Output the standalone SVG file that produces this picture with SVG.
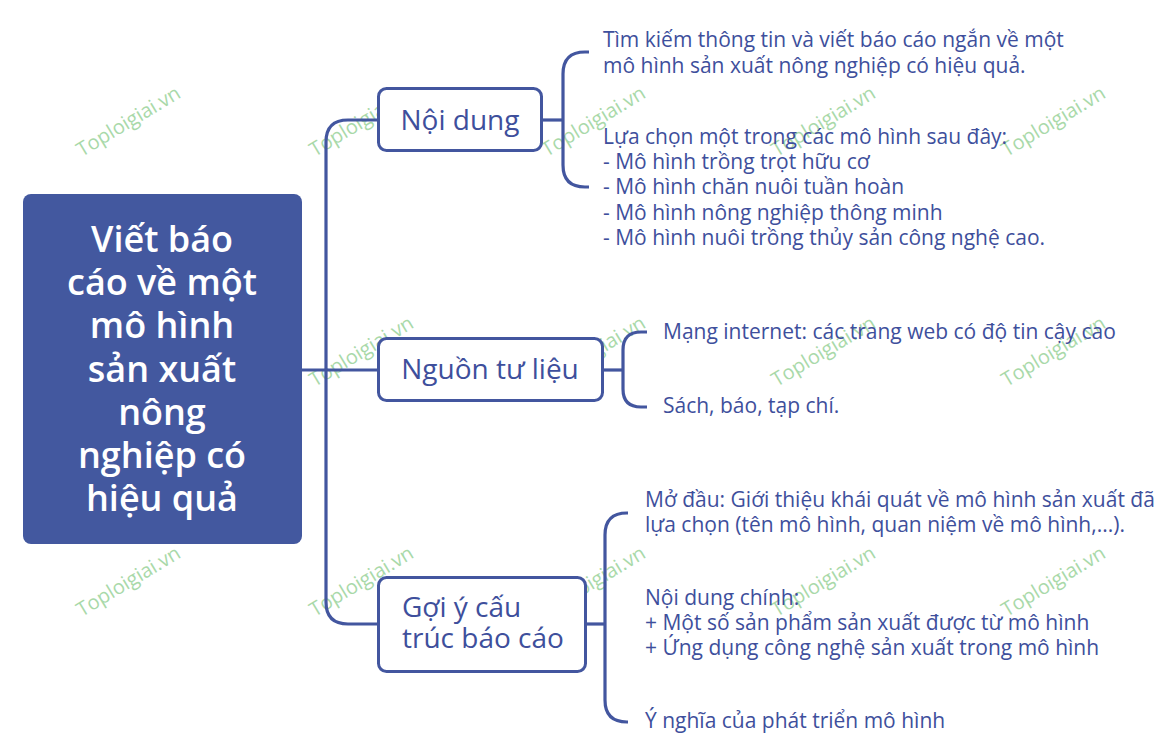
<svg xmlns="http://www.w3.org/2000/svg" width="1166" height="745" viewBox="0 0 1166 745">
<style>
.wm{font-family:"Open Sans","Noto Sans",sans-serif;font-size:20px;fill:#a9d9a9;}
.root{font-family:"Open Sans","Noto Sans",sans-serif;font-size:36px;font-weight:600;fill:#ffffff;text-anchor:middle;}
.nb{fill:#ffffff;stroke:#43569f;stroke-width:3;}
.nt{font-family:"Open Sans","Noto Sans",sans-serif;font-size:28px;fill:#3e4f9c;}
.lt{font-family:"Open Sans","Noto Sans",sans-serif;font-size:21px;fill:#3e4f9c;}
.ln{fill:none;stroke:#43569f;stroke-width:3.2;stroke-linecap:butt;}
</style>
<rect width="1166" height="745" fill="#ffffff"/>
<g id="watermarks">
<text class="wm" transform="translate(132,127) rotate(-31)" text-anchor="middle">Toploigiai.vn</text>
<text class="wm" transform="translate(365,127) rotate(-31)" text-anchor="middle">Toploigiai.vn</text>
<text class="wm" transform="translate(597,127) rotate(-31)" text-anchor="middle">Toploigiai.vn</text>
<text class="wm" transform="translate(827,127) rotate(-31)" text-anchor="middle">Toploigiai.vn</text>
<text class="wm" transform="translate(1057,127) rotate(-31)" text-anchor="middle">Toploigiai.vn</text>
<text class="wm" transform="translate(365,357) rotate(-31)" text-anchor="middle">Toploigiai.vn</text>
<text class="wm" transform="translate(597,357) rotate(-31)" text-anchor="middle">Toploigiai.vn</text>
<text class="wm" transform="translate(827,357) rotate(-31)" text-anchor="middle">Toploigiai.vn</text>
<text class="wm" transform="translate(1057,357) rotate(-31)" text-anchor="middle">Toploigiai.vn</text>
<text class="wm" transform="translate(132,587) rotate(-31)" text-anchor="middle">Toploigiai.vn</text>
<text class="wm" transform="translate(365,587) rotate(-31)" text-anchor="middle">Toploigiai.vn</text>
<text class="wm" transform="translate(597,587) rotate(-31)" text-anchor="middle">Toploigiai.vn</text>
<text class="wm" transform="translate(827,587) rotate(-31)" text-anchor="middle">Toploigiai.vn</text>
<text class="wm" transform="translate(1057,587) rotate(-31)" text-anchor="middle">Toploigiai.vn</text>
</g>
<g id="connectors">
<path class="ln" d="M301,370 H378"/>
<path class="ln" d="M378,120 H348 Q326,120 326,142 V602 Q326,624 348,624 H378"/>
<path class="ln" d="M542,120 H563"/>
<path class="ln" d="M589,52 H585 Q563,52 563,74 V165 Q563,187 585,187 H589"/>
<path class="ln" d="M603,370 H623"/>
<path class="ln" d="M647,332 H641 Q623,332 623,350 V389 Q623,407 641,407 H647"/>
<path class="ln" d="M586,624 H605"/>
<path class="ln" d="M628,513 H627 Q605,513 605,535 V700 Q605,722 627,722 H628"/>
</g>
<g id="root">
<rect x="23" y="194" width="279" height="350" rx="8" fill="#43589f"/>
<text class="root"><tspan x="162" y="252">Viết báo</tspan><tspan x="162" y="295">cáo về một</tspan><tspan x="162" y="338">mô hình</tspan><tspan x="162" y="382">sản xuất</tspan><tspan x="162" y="425">nông</tspan><tspan x="162" y="468">nghiệp có</tspan><tspan x="162" y="511">hiệu quả</tspan></text>
</g>
<g id="node-noidung">
<rect class="nb" x="378.5" y="88.5" width="163" height="62" rx="8"/>
<text class="nt" x="460" y="130" text-anchor="middle">Nội dung</text>
</g>
<g id="node-nguon">
<rect class="nb" x="378.5" y="338.5" width="224" height="62" rx="8"/>
<text class="nt" x="490" y="379" text-anchor="middle">Nguồn tư liệu</text>
</g>
<g id="node-goiy">
<rect class="nb" x="378.5" y="577.5" width="207" height="94" rx="8"/>
<text class="nt"><tspan x="402" y="617">Gợi ý cấu</tspan><tspan x="402" y="648">trúc báo cáo</tspan></text>
</g>
<g id="leaf-noidung">
<text class="lt"><tspan x="603" y="47">Tìm kiếm thông tin và viết báo cáo ngắn về một</tspan><tspan x="603" y="73">mô hình sản xuất nông nghiệp có hiệu quả.</tspan></text>
<text class="lt"><tspan x="603" y="144">Lựa chọn một trong các mô hình sau đây:</tspan><tspan x="603" y="169">- Mô hình trồng trọt hữu cơ</tspan><tspan x="603" y="194">- Mô hình chăn nuôi tuần hoàn</tspan><tspan x="603" y="220">- Mô hình nông nghiệp thông minh</tspan><tspan x="603" y="245">- Mô hình nuôi trồng thủy sản công nghệ cao.</tspan></text>
</g>
<g id="leaf-nguon">
<text class="lt" x="663" y="339">Mạng internet: các trang web có độ tin cậy cao</text>
<text class="lt" x="663" y="413">Sách, báo, tạp chí.</text>
</g>
<g id="leaf-goiy">
<text class="lt"><tspan x="645" y="507">Mở đầu: Giới thiệu khái quát về mô hình sản xuất đã</tspan><tspan x="645" y="532">lựa chọn (tên mô hình, quan niệm về mô hình,...).</tspan></text>
<text class="lt"><tspan x="645" y="605">Nội dung chính:</tspan><tspan x="645" y="630">+ Một số sản phẩm sản xuất được từ mô hình</tspan><tspan x="645" y="655">+ Ứng dụng công nghệ sản xuất trong mô hình</tspan></text>
<text class="lt" x="645" y="728">Ý nghĩa của phát triển mô hình</text>
</g>
</svg>
